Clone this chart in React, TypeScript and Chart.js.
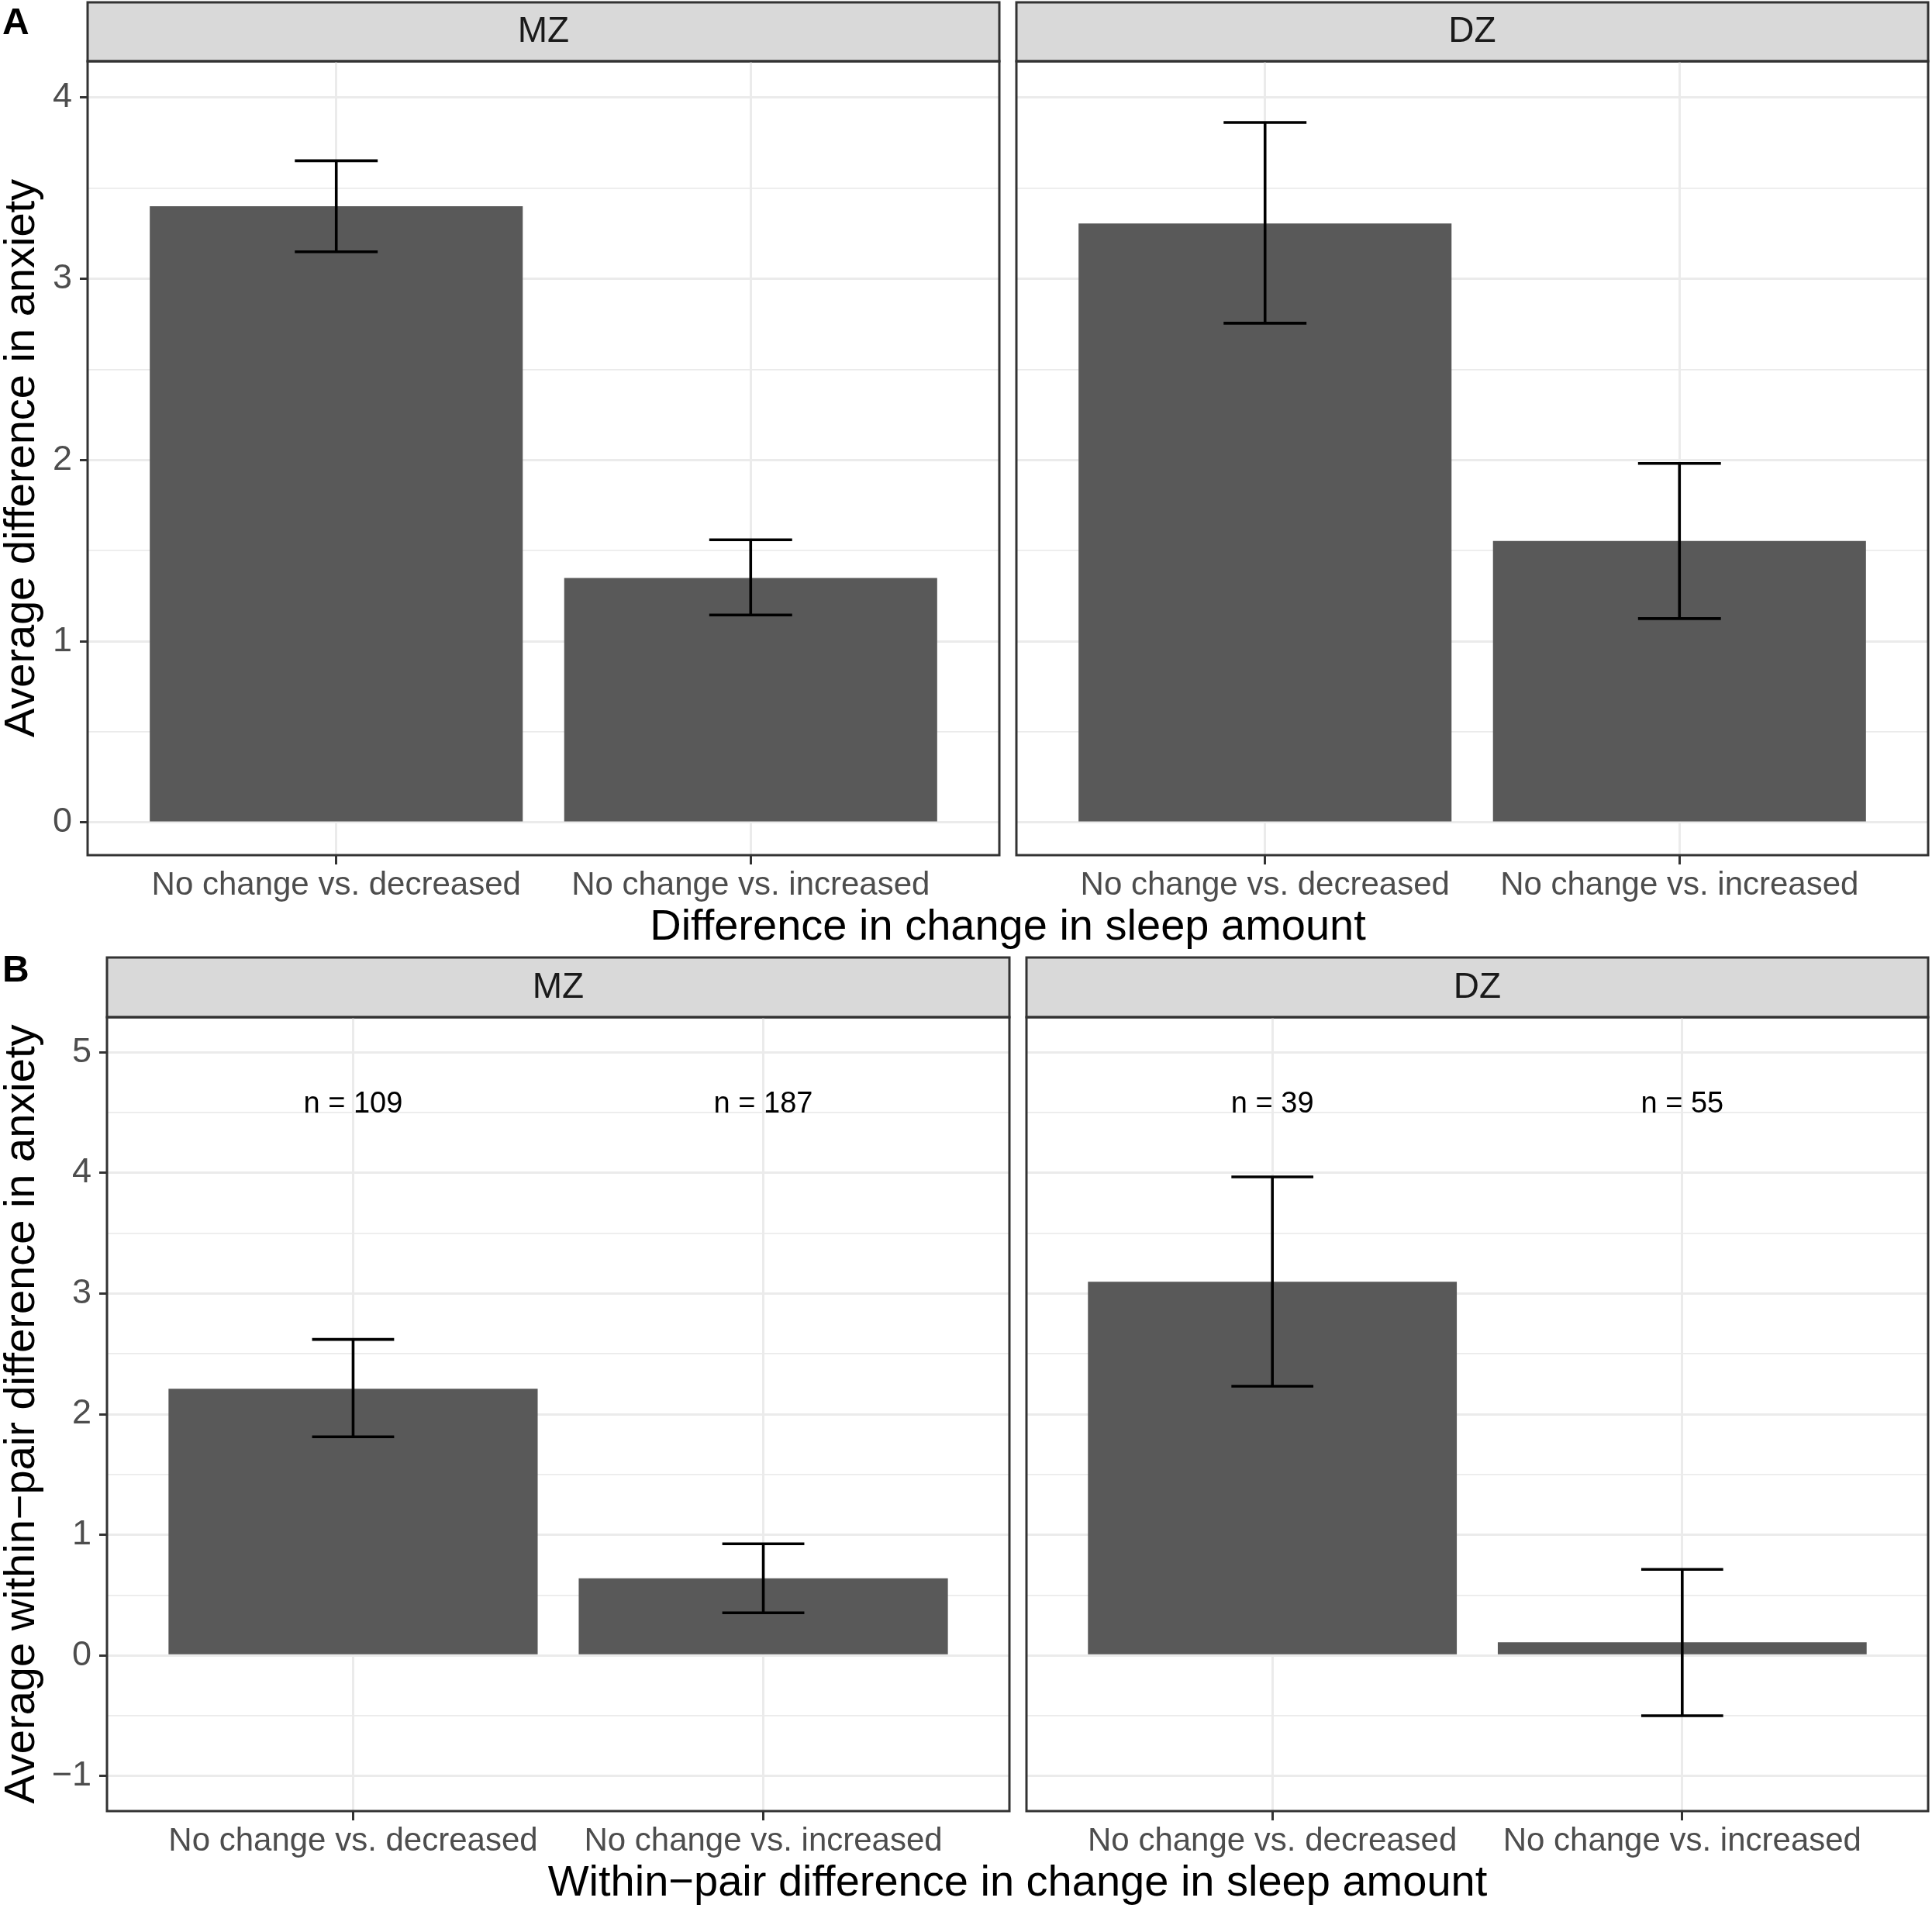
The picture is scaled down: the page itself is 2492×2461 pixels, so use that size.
import React, { useEffect, useRef } from 'react';
import { Chart, registerables } from 'chart.js';

Chart.register(...registerables);

const FONT = '"Liberation Sans", Arial, Helvetica, sans-serif';

// ---------- data ----------
const categories = ['No change vs. decreased', 'No change vs. increased'];
const categoryPos = [1, 2];
const facetNames = ['MZ', 'DZ'];

// Panel A: average difference in anxiety
const meanA_MZ = [3.4, 1.349];
const lowA_MZ = [3.149, 1.145];
const highA_MZ = [3.651, 1.56];
const meanA_DZ = [3.305, 1.553];
const lowA_DZ = [2.755, 1.125];
const highA_DZ = [3.862, 1.981];

// Panel B: average within-pair difference in anxiety
const meanB_MZ = [2.211, 0.639];
const lowB_MZ = [1.812, 0.353];
const highB_MZ = [2.619, 0.925];
const meanB_DZ = [3.098, 0.11];
const lowB_DZ = [2.231, -0.5];
const highB_DZ = [3.966, 0.713];
const nLabelsB_MZ = ['n = 109', 'n = 187'];
const nLabelsB_DZ = ['n = 39', 'n = 55'];
const nLabelY = 4.57;

// axes
const yRangeA = [-0.18, 4.2];
const yMajorA = [0, 1, 2, 3, 4];
const yMajorLabelsA = ['0', '1', '2', '3', '4'];
const yMinorA = [0.5, 1.5, 2.5, 3.5];
const yRangeB = [-1.29, 5.29];
const yMajorB = [-1, 0, 1, 2, 3, 4, 5];
const yMajorLabelsB = ['\u22121', '0', '1', '2', '3', '4', '5'];
const yMinorB = [-0.5, 0.5, 1.5, 2.5, 3.5, 4.5];
const xRange = [0.4, 2.6];

const yTitleA = 'Average difference in anxiety';
const yTitleB = 'Average within\u2212pair difference in anxiety';
const xTitleA = 'Difference in change in sleep amount';
const xTitleB = 'Within\u2212pair difference in change in sleep amount';

// ---------- layout (pixels) ----------
const X_AXIS_H = 75;
const TITLE_SIZE = 56;

type Facet = {
  key: string;
  strip: string;
  means: number[];
  lows: number[];
  highs: number[];
  nLabels?: string[];
  yRange: number[];
  yMajor: number[];
  yMajorLabels: string[];
  yMinor: number[];
  showY: boolean;
  yTitle: string;
  x0: number;
  x1: number;
  stripTop: number;
  plotTop: number;
  plotBottom: number;
};

const facets: Facet[] = [
  { key: 'A-MZ', strip: facetNames[0], means: meanA_MZ, lows: lowA_MZ, highs: highA_MZ,
    yRange: yRangeA, yMajor: yMajorA, yMajorLabels: yMajorLabelsA, yMinor: yMinorA,
    showY: true, yTitle: yTitleA, x0: 113, x1: 1289, stripTop: 3, plotTop: 79, plotBottom: 1103 },
  { key: 'A-DZ', strip: facetNames[1], means: meanA_DZ, lows: lowA_DZ, highs: highA_DZ,
    yRange: yRangeA, yMajor: yMajorA, yMajorLabels: yMajorLabelsA, yMinor: yMinorA,
    showY: false, yTitle: yTitleA, x0: 1311, x1: 2487, stripTop: 3, plotTop: 79, plotBottom: 1103 },
  { key: 'B-MZ', strip: facetNames[0], means: meanB_MZ, lows: lowB_MZ, highs: highB_MZ, nLabels: nLabelsB_MZ,
    yRange: yRangeB, yMajor: yMajorB, yMajorLabels: yMajorLabelsB, yMinor: yMinorB,
    showY: true, yTitle: yTitleB, x0: 138, x1: 1302, stripTop: 1235, plotTop: 1312, plotBottom: 2336 },
  { key: 'B-DZ', strip: facetNames[1], means: meanB_DZ, lows: lowB_DZ, highs: highB_DZ, nLabels: nLabelsB_DZ,
    yRange: yRangeB, yMajor: yMajorB, yMajorLabels: yMajorLabelsB, yMinor: yMinorB,
    showY: false, yTitle: yTitleB, x0: 1324, x1: 2487, stripTop: 1235, plotTop: 1312, plotBottom: 2336 },
];

const stripPlugin = {
  id: 'stripBox',
  beforeDraw(chart: any) {
    const { ctx, chartArea } = chart;
    ctx.save();
    ctx.fillStyle = '#d9d9d9';
    ctx.fillRect(chartArea.left, 2, chartArea.right - chartArea.left, chartArea.top - 2);
    ctx.strokeStyle = '#333333';
    ctx.lineWidth = 3;
    ctx.strokeRect(chartArea.left, 2, chartArea.right - chartArea.left, chartArea.top - 2);
    ctx.restore();
  },
};

const errorBarPlugin = {
  id: 'errorBars',
  afterDatasetsDraw(chart: any, _args: any, opts: any) {
    const { ctx } = chart;
    const xs = chart.scales.x;
    const ys = chart.scales.y;
    ctx.save();
    ctx.strokeStyle = '#000000';
    ctx.lineWidth = 3.6;
    ctx.lineCap = 'butt';
    (opts.pos as number[]).forEach((p, i) => {
      const x = xs.getPixelForValue(p);
      const hw = xs.getPixelForValue(p + 0.1) - x;
      const yl = ys.getPixelForValue(opts.lows[i]);
      const yh = ys.getPixelForValue(opts.highs[i]);
      ctx.beginPath();
      ctx.moveTo(x, yl);
      ctx.lineTo(x, yh);
      ctx.moveTo(x - hw, yl);
      ctx.lineTo(x + hw, yl);
      ctx.moveTo(x - hw, yh);
      ctx.lineTo(x + hw, yh);
      ctx.stroke();
    });
    if (opts.nLabels) {
      ctx.fillStyle = '#000000';
      ctx.font = `38px ${FONT}`;
      ctx.textAlign = 'center';
      ctx.textBaseline = 'middle';
      (opts.pos as number[]).forEach((p, i) => {
        ctx.fillText(opts.nLabels[i], xs.getPixelForValue(p), ys.getPixelForValue(opts.nY));
      });
    }
    ctx.restore();
  },
};

const borderPlugin = {
  id: 'panelBorder',
  afterDraw(chart: any) {
    const { ctx, chartArea } = chart;
    ctx.save();
    ctx.strokeStyle = '#333333';
    ctx.lineWidth = 3;
    ctx.strokeRect(chartArea.left, chartArea.top, chartArea.right - chartArea.left, chartArea.bottom - chartArea.top);
    ctx.restore();
  },
};

function FacetChart({ f }: { f: Facet }) {
  const ref = useRef<HTMLCanvasElement | null>(null);
  const left = f.showY ? 0 : f.x0 - 2;
  const top = f.stripTop - 2;
  const width = f.x1 + 2 - left;
  const height = f.plotBottom + X_AXIS_H - top;
  const stripH = f.plotTop - f.stripTop;

  useEffect(() => {
    if (!ref.current) return;
    const yTicks = [...f.yMajor, ...f.yMinor].sort((a, b) => a - b);
    const isMajor = (v: number) => f.yMajor.includes(v);
    const chart = new Chart(ref.current, {
      type: 'bar',
      data: {
        datasets: [
          {
            data: categoryPos.map((p, i) => ({ x: p, y: f.means[i] })),
            backgroundColor: '#595959',
            borderWidth: 0,
            barPercentage: 0.9,
            categoryPercentage: 1,
          },
        ],
      },
      options: {
        responsive: false,
        devicePixelRatio: 1,
        animation: false,
        events: [],
        layout: { padding: { left: f.showY ? 0 : 2, right: 2, top: 2, bottom: 0 } },
        plugins: {
          legend: { display: false },
          tooltip: { enabled: false },
          title: {
            display: true,
            text: f.strip,
            fullSize: false,
            color: '#1a1a1a',
            font: { family: FONT, size: 46, weight: 'normal', lineHeight: 1 },
            padding: { top: Math.ceil((stripH - 46) / 2), bottom: Math.floor((stripH - 46) / 2) },
          },
          errorBars: {
            pos: categoryPos,
            lows: f.lows,
            highs: f.highs,
            nLabels: f.nLabels,
            nY: nLabelY,
          },
        } as any,
        scales: {
          x: {
            type: 'linear',
            offset: false,
            min: xRange[0],
            max: xRange[1],
            afterBuildTicks: (scale: any) => {
              scale.ticks = categoryPos.map((v) => ({ value: v }));
            },
            afterFit: (scale: any) => {
              scale.height = X_AXIS_H;
            },
            ticks: {
              autoSkip: false,
              maxRotation: 0,
              padding: 6,
              color: '#4d4d4d',
              font: { family: FONT, size: 42, lineHeight: 1 },
              callback: (v: any) => categories[categoryPos.indexOf(Number(v))] ?? '',
            },
            grid: {
              offset: false,
              color: '#ebebeb',
              lineWidth: 3,
              drawTicks: true,
              tickLength: 12,
              tickColor: '#333333',
              tickWidth: 3,
            },
            border: { display: false },
          },
          y: {
            type: 'linear',
            min: f.yRange[0],
            max: f.yRange[1],
            afterBuildTicks: (scale: any) => {
              scale.ticks = yTicks.map((v) => ({ value: v }));
            },
            afterFit: (scale: any) => {
              scale.width = f.showY ? f.x0 : 0;
            },
            ticks: {
              display: f.showY,
              autoSkip: false,
              padding: 10,
              color: '#4d4d4d',
              font: { family: FONT, size: 45, lineHeight: 1 },
              callback: (v: any) => {
                const idx = f.yMajor.indexOf(Number(v));
                return idx >= 0 ? f.yMajorLabels[idx] : '';
              },
            },
            grid: {
              color: '#ebebeb',
              lineWidth: (c: any) => (isMajor(c.tick?.value) ? 3 : 1.8),
              drawTicks: f.showY,
              tickLength: 10,
              tickColor: (c: any) => (isMajor(c.tick?.value) ? '#333333' : 'rgba(0,0,0,0)'),
              tickWidth: 3,
            },
            border: { display: false },
            title: {
              display: f.showY,
              text: f.yTitle,
              color: '#000000',
              font: { family: FONT, size: TITLE_SIZE, lineHeight: 1 },
              padding: { top: 1, bottom: 0 },
            },
          },
        },
      } as any,
      plugins: [stripPlugin, errorBarPlugin, borderPlugin],
    });
    return () => chart.destroy();
  }, []);

  return (
    <canvas
      ref={ref}
      width={width}
      height={height}
      style={{ position: 'absolute', left, top, width, height }}
    />
  );
}

const textBase: React.CSSProperties = {
  position: 'absolute',
  fontFamily: FONT,
  color: '#000000',
  whiteSpace: 'nowrap',
};

export default function App() {
  useEffect(() => {
    document.body.style.margin = '0';
    document.body.style.background = '#ffffff';
  }, []);
  return (
    <div style={{ position: 'relative', width: 2492, height: 2461, background: '#ffffff', overflow: 'hidden' }}>
      {facets.map((f) => (
        <FacetChart key={f.key} f={f} />
      ))}
      <div style={{ ...textBase, left: 3, top: 4, fontSize: 48, lineHeight: '48px', fontWeight: 'bold' }}>A</div>
      <div style={{ ...textBase, left: 3, top: 1226, fontSize: 48, lineHeight: '48px', fontWeight: 'bold' }}>B</div>
      <div style={{ ...textBase, left: 113, width: 2487 - 113, textAlign: 'center', top: 1165, fontSize: TITLE_SIZE, lineHeight: `${TITLE_SIZE}px` }}>
        {xTitleA}
      </div>
      <div style={{ ...textBase, left: 138, width: 2487 - 138, textAlign: 'center', top: 2398, fontSize: TITLE_SIZE, lineHeight: `${TITLE_SIZE}px` }}>
        {xTitleB}
      </div>
    </div>
  );
}
